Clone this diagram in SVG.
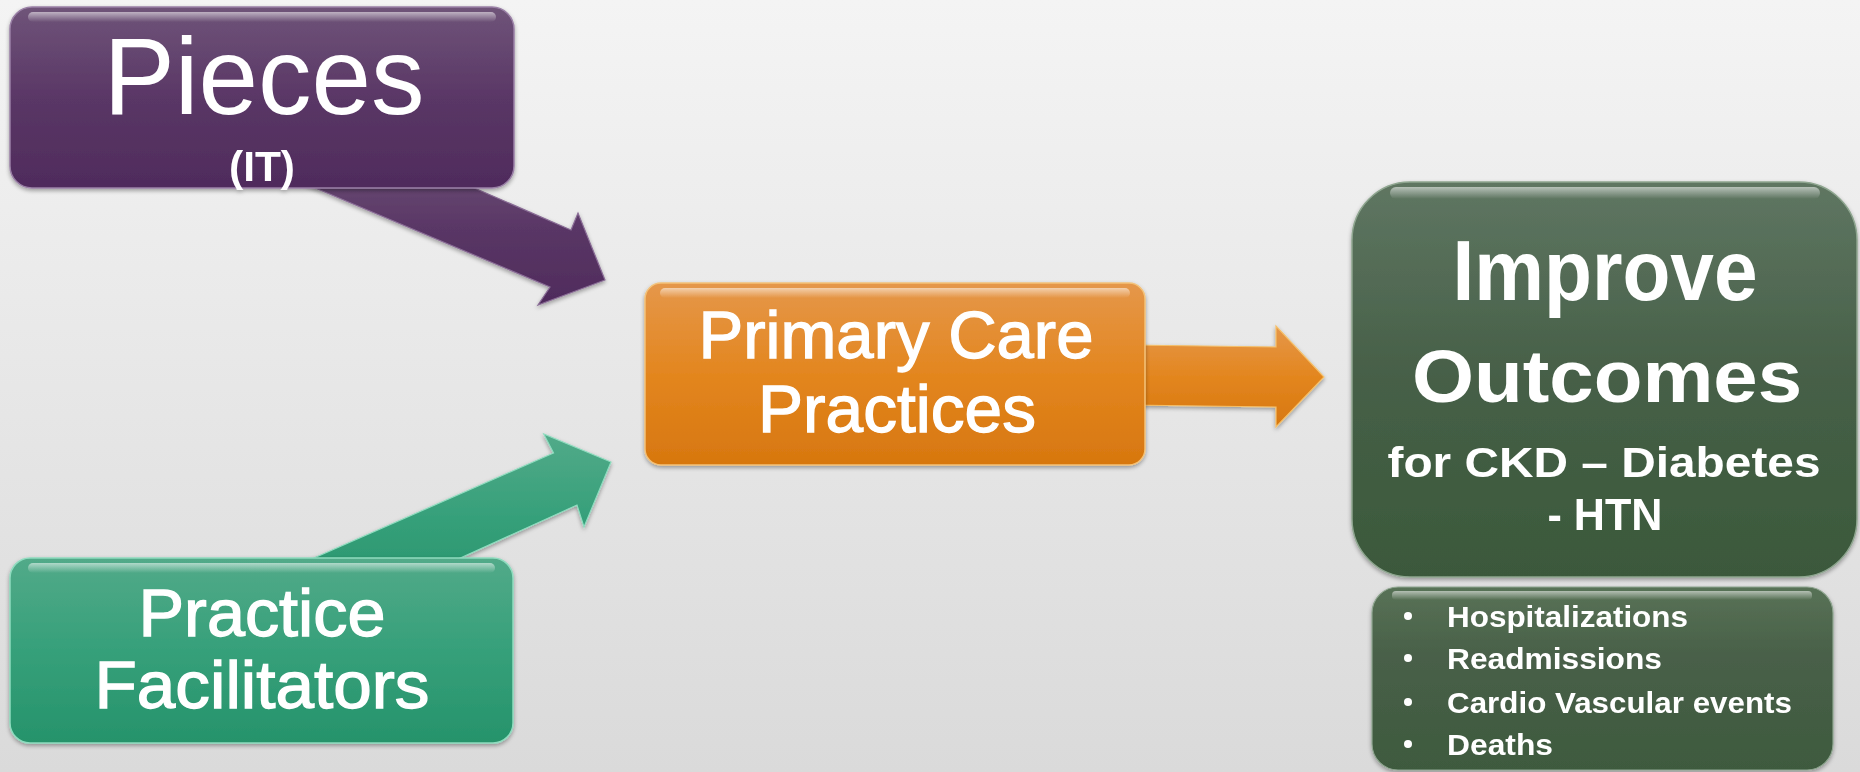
<svg xmlns="http://www.w3.org/2000/svg" width="1860" height="772" viewBox="0 0 1860 772">
  <defs>
    <linearGradient id="bg" x1="0" y1="0" x2="0" y2="1">
      <stop offset="0" stop-color="#f4f4f4"/>
      <stop offset="1" stop-color="#dadada"/>
    </linearGradient>
    <linearGradient id="gPurple" x1="0" y1="0" x2="0" y2="1">
      <stop offset="0" stop-color="#6f5479"/>
      <stop offset="0.5" stop-color="#5a3766"/>
      <stop offset="1" stop-color="#4f2b5c"/>
    </linearGradient>
    <linearGradient id="gTeal" x1="0" y1="0" x2="0" y2="1">
      <stop offset="0" stop-color="#52aa89"/>
      <stop offset="0.5" stop-color="#36a07a"/>
      <stop offset="1" stop-color="#26936b"/>
    </linearGradient>
    <linearGradient id="gOrange" x1="0" y1="0" x2="0" y2="1">
      <stop offset="0" stop-color="#e5974a"/>
      <stop offset="0.5" stop-color="#e3861f"/>
      <stop offset="1" stop-color="#d7770f"/>
    </linearGradient>
    <linearGradient id="gDark" x1="0" y1="0" x2="0" y2="1">
      <stop offset="0" stop-color="#5f7662"/>
      <stop offset="0.5" stop-color="#465f47"/>
      <stop offset="1" stop-color="#3b593b"/>
    </linearGradient>
    <linearGradient id="gDark2" x1="0" y1="0" x2="0" y2="1">
      <stop offset="0" stop-color="#587256"/>
      <stop offset="0.4" stop-color="#485f48"/>
      <stop offset="1" stop-color="#3e5a3e"/>
    </linearGradient>
    <linearGradient id="shine" x1="0" y1="0" x2="0" y2="1">
      <stop offset="0" stop-color="#ffffff" stop-opacity="0.55"/>
      <stop offset="1" stop-color="#ffffff" stop-opacity="0"/>
    </linearGradient>
    <filter id="sh" x="-5%" y="-5%" width="110%" height="115%">
      <feGaussianBlur in="SourceAlpha" stdDeviation="2"/>
      <feOffset dx="0" dy="2" result="b"/>
      <feComponentTransfer><feFuncA type="linear" slope="0.35"/></feComponentTransfer>
      <feMerge><feMergeNode/><feMergeNode in="SourceGraphic"/></feMerge>
    </filter>
  </defs>
  <style>
    .t { font-family: "Liberation Sans", Arial, sans-serif; fill: #ffffff; text-anchor: middle; }
    .m { stroke: #ffffff; stroke-width: 1.3; }
    .b { font-family: "Liberation Sans", Arial, sans-serif; fill: #ffffff; font-weight: bold; }
    .hl { fill: url(#shine); }
  </style>

  <rect x="0" y="0" width="1860" height="772" fill="url(#bg)"/>

  <g id="connectors" filter="url(#sh)">
    <polygon id="arrow-pieces" points="380,147 571,230 578,213 605,280 538,305 550,287 230,152" fill="url(#gPurple)" stroke="#8a6d96" stroke-width="1.2"/>
    <polygon id="arrow-facilitators" points="218,600 553.5,453 543.7,434 611,462 584,527 577,505 368,600" fill="url(#gTeal)" stroke="#8fdcbf" stroke-width="1.2"/>
    <polygon id="arrow-primary" points="1130,345 1276,347 1276,326 1324,377 1276,427 1276,407 1130,405" fill="url(#gOrange)" stroke="#f5c06a" stroke-width="1.2"/>
  </g>

  <g id="node-pieces" filter="url(#sh)">
    <rect x="10" y="7" width="504" height="181" rx="22" fill="url(#gPurple)" stroke="#9a80a6" stroke-width="1.5"/>
    <rect x="28" y="12" width="468" height="10" rx="5" class="hl"/>
    <text class="t" x="264" y="114" font-size="110" textLength="321" lengthAdjust="spacingAndGlyphs">Pieces</text>
    <text class="t" x="262" y="181" font-size="42" font-weight="bold" textLength="66" lengthAdjust="spacingAndGlyphs">(IT)</text>
  </g>

  <g id="node-facilitators" filter="url(#sh)">
    <rect x="10" y="558" width="503" height="185" rx="20" fill="url(#gTeal)" stroke="#8fdcbf" stroke-width="1.5"/>
    <rect x="28" y="563" width="467" height="10" rx="5" class="hl"/>
    <text class="t m" x="262" y="636" font-size="67" textLength="247" lengthAdjust="spacingAndGlyphs">Practice</text>
    <text class="t m" x="262" y="708" font-size="67" textLength="335" lengthAdjust="spacingAndGlyphs">Facilitators</text>
  </g>

  <g id="node-primary" filter="url(#sh)">
    <rect x="645" y="283" width="500" height="182" rx="16" fill="url(#gOrange)" stroke="#f3c27a" stroke-width="1.5"/>
    <rect x="660" y="288" width="470" height="10" rx="5" class="hl"/>
    <text class="t m" x="896" y="358" font-size="67" textLength="395" lengthAdjust="spacingAndGlyphs">Primary Care</text>
    <text class="t m" x="897" y="432" font-size="67" textLength="278" lengthAdjust="spacingAndGlyphs">Practices</text>
  </g>

  <g id="node-outcomes" filter="url(#sh)">
    <rect x="1352" y="182" width="505" height="395" rx="58" fill="url(#gDark)" stroke="#8ea58f" stroke-width="1.5"/>
    <rect x="1390" y="187" width="430" height="12" rx="6" class="hl"/>
    <text class="t" x="1605" y="300" font-size="86" font-weight="bold" textLength="305" lengthAdjust="spacingAndGlyphs">Improve</text>
    <text class="t" x="1607" y="402" font-size="74" font-weight="bold" textLength="390" lengthAdjust="spacingAndGlyphs">Outcomes</text>
    <text class="t" x="1604" y="477" font-size="43" font-weight="bold" textLength="433" lengthAdjust="spacingAndGlyphs">for CKD – Diabetes</text>
    <text class="t" x="1605" y="530" font-size="44" font-weight="bold" textLength="115" lengthAdjust="spacingAndGlyphs">- HTN</text>
  </g>

  <g id="node-measures" filter="url(#sh)">
    <rect x="1372" y="587" width="461" height="183" rx="26" fill="url(#gDark2)" stroke="#8ea58f" stroke-width="1.2"/>
    <rect x="1392" y="591" width="420" height="9" rx="4" class="hl"/>
    <circle cx="1408" cy="616" r="4" fill="#fff"/>
    <circle cx="1408" cy="658" r="4" fill="#fff"/>
    <circle cx="1408" cy="702" r="4" fill="#fff"/>
    <circle cx="1408" cy="744" r="4" fill="#fff"/>
    <text class="b" x="1447" y="627" font-size="30" textLength="241" lengthAdjust="spacingAndGlyphs">Hospitalizations</text>
    <text class="b" x="1447" y="669" font-size="30" textLength="215" lengthAdjust="spacingAndGlyphs">Readmissions</text>
    <text class="b" x="1447" y="713" font-size="30" textLength="345" lengthAdjust="spacingAndGlyphs">Cardio Vascular events</text>
    <text class="b" x="1447" y="755" font-size="30" textLength="106" lengthAdjust="spacingAndGlyphs">Deaths</text>
  </g>
</svg>
